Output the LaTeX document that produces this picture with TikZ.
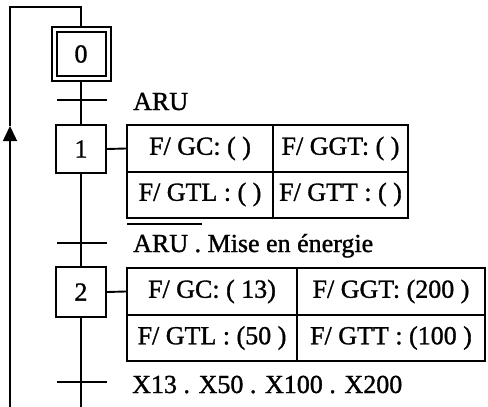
\documentclass[tikz,border=0pt]{standalone}
\usepackage{fontspec}
\setmainfont[FakeBold=1.2]{Liberation Serif}
\usetikzlibrary{arrows.meta}
\newcommand\grafcetfont{\fontsize{26}{30}\selectfont}
\tikzset{
  every node/.style={font=\grafcetfont},
  stepbox/.style={draw, line width=2pt, inner sep=0pt},
  cell/.style={draw, line width=2pt, inner sep=0pt, minimum height=#1},
  trans/.style={line width=2.4pt},
  link/.style={line width=1.9pt},
  lbl/.style={anchor=base west, inner sep=0pt},
}
\begin{document}
\begin{tikzpicture}[x=1pt,y=-1pt]
\useasboundingbox (0,0) rectangle (488,407);
% step 0 (initial, double frame)
\node[stepbox, minimum width=59pt, minimum height=54pt] (s0o) at (81,54) {};
\node[stepbox, minimum width=49pt, minimum height=44pt] (s0) at (81,54) {0};
% steps
\node[stepbox, minimum width=50pt, minimum height=48pt] (s1) at (81,149) {1};
\node[stepbox, minimum width=50pt, minimum height=50pt] (s2) at (81,292) {2};
% action tables
\node[cell=47pt, minimum width=146pt] (a11) at (200,148.5) {F/ GC: ( )};
\node[cell=47pt, minimum width=135pt] (a12) at (340.5,148.5) {F/ GGT: ( )};
\node[cell=46pt, minimum width=146pt] (a13) at (200,194.5) {F/ GTL : ( )};
\node[cell=46pt, minimum width=135pt] (a14) at (340.5,194.5) {F/ GTT : ( )};
\node[cell=47pt, minimum width=170pt] (a21) at (212,291.5) {F/ GC: ( 13)};
\node[cell=47pt, minimum width=188pt] (a22) at (391,291.5) {F/ GGT: (200 )};
\node[cell=46pt, minimum width=170pt] (a23) at (212,338) {F/ GTL : (50 )};
\node[cell=46pt, minimum width=188pt] (a24) at (391,338) {F/ GTT : (100 )};
% transitions
\coordinate (t1l) at (57,100); \coordinate (t1r) at (107,100);
\coordinate (t2l) at (57,243); \coordinate (t2r) at (107,243);
\coordinate (t3l) at (57,382); \coordinate (t3r) at (107,382);
\draw[trans] (t1l) -- (t1r);
\draw[trans] (t2l) -- (t2r);
\draw[trans] (t3l) -- (t3r);
\node[lbl] (r1) at (133,110) {ARU};
\node[lbl] (r2) at (133,252) {\rlap{\hspace{-6pt}\raisebox{27pt}{\rule{75pt}{1.8pt}}}ARU . Mise en énergie};
\node[lbl] (r3) at (132,393) {X13 . X50 . X100 . X200};
% main line
\coordinate (bot) at (81,407);
\coordinate (top) at (81,7);
\coordinate (topl) at (10,7);
\coordinate (arr) at (10,126);
\coordinate (botl) at (10,407);
\draw[link] (s0o.south) -- (s1.north);
\draw[link] (s1.south) -- (s2.north);
\draw[link] (s2.south) -- (bot);
\draw[link] (s1.east) -- (a11.west);
\draw[link] (s2.east) -- (a21.west);
% return loop
\draw[line width=1.5pt] (s0o.north) -- (top) -- (topl) -- (arr);
\draw[line width=1.5pt, -{Triangle[width=14pt,length=15pt]}] (botl) -- (arr);
\end{tikzpicture}
\end{document}
